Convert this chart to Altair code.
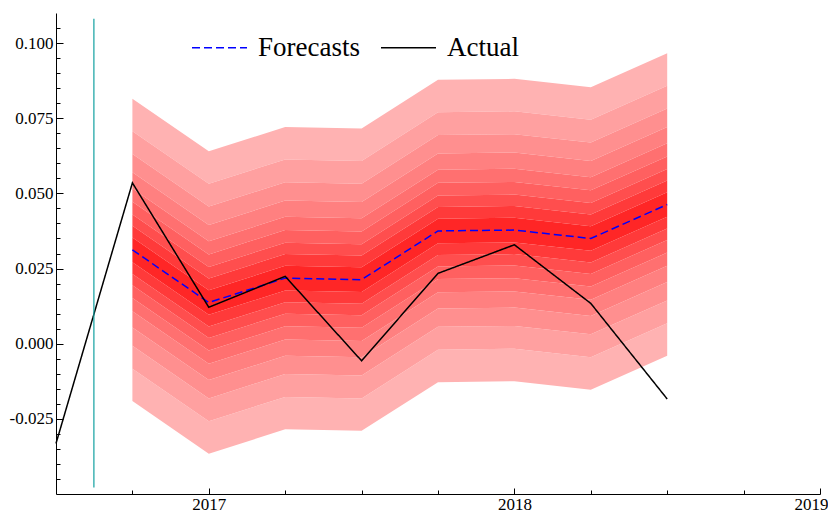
import altair as alt
import pandas as pd

# ---- data ----
fc_time = [2016.75, 2017.0, 2017.25, 2017.5, 2017.75, 2018.0, 2018.25, 2018.5]
forecast = [0.0312, 0.0137, 0.0218, 0.0213, 0.0375, 0.0378, 0.0350, 0.0463]

act_time = [2016.5, 2016.75, 2017.0, 2017.25, 2017.5, 2017.75, 2018.0, 2018.25, 2018.5]
actual = [-0.0332, 0.0535, 0.0121, 0.0224, -0.0057, 0.0234, 0.0329, 0.0134, -0.0184]

# half-widths of the fan boundaries around the forecast, outer -> inner
band_offsets = [0.0503, 0.0395, 0.0319, 0.0258, 0.0204, 0.0160, 0.0118, 0.0080, 0.0041]
band_colors = ["#ffb2b2", "#ffa0a0", "#ff8f8f", "#ff8080", "#ff7070",
               "#ff6060", "#ff4e4e", "#ff3a3a", "#ff2626"]
band_levels = ["L1", "L2", "L3", "L4", "L5", "L6", "L7", "L8", "L9"]

origin_time = [2016.624]
origin_low = [-0.0478]
origin_high = [0.1081]

y_major = [-0.025, 0.0, 0.025, 0.05, 0.075, 0.1]
y_minor = [-0.045, -0.04, -0.035, -0.03, -0.02, -0.015, -0.01, -0.005,
           0.005, 0.01, 0.015, 0.02, 0.03, 0.035, 0.04, 0.045,
           0.055, 0.06, 0.065, 0.07, 0.08, 0.085, 0.09, 0.095, 0.105]
x_major = [2017, 2018, 2019]
x_minor = [2016.75, 2017.25, 2017.5, 2017.75, 2018.25, 2018.5, 2018.75]

series_names = ["Forecasts", "Actual"]

# ---- tables ----
band_rows = []
n = len(band_offsets)
for i in range(n):
    for t, m in zip(fc_time, forecast):
        if i < n - 1:
            band_rows.append({"t": t, "lo": m + band_offsets[i + 1], "hi": m + band_offsets[i],
                              "level": band_levels[i], "band": f"u{i}"})
            band_rows.append({"t": t, "lo": m - band_offsets[i], "hi": m - band_offsets[i + 1],
                              "level": band_levels[i], "band": f"d{i}"})
        else:
            band_rows.append({"t": t, "lo": m - band_offsets[i], "hi": m + band_offsets[i],
                              "level": band_levels[i], "band": "c"})
bands_df = pd.DataFrame(band_rows)

line_rows = [{"t": t, "v": v, "series": "Forecasts"} for t, v in zip(fc_time, forecast)]
line_rows += [{"t": t, "v": v, "series": "Actual"} for t, v in zip(act_time, actual)]
lines_df = pd.DataFrame(line_rows)

origin_df = pd.DataFrame({"t": origin_time, "y1": origin_low, "y2": origin_high})

FONT = "Liberation Serif"
xscale = alt.Scale(domain=[2016.5, 2019], nice=False, zero=False)
yscale = alt.Scale(domain=[-0.05, 0.11], nice=False, zero=False)

# main axes: domain + labels
x_main = alt.Axis(values=x_major, format="d", ticks=False, grid=False, title=None,
                  labelFont=FONT, labelFontSize=17, labelColor="black", labelPadding=2,
                  labelFlush=False, labelOverlap=False, domainColor="black", domainWidth=1,
                  labelOffset={"condition": {"test": "datum.value == 2019", "value": -9}, "value": 0},
                  orient="bottom")
y_main = alt.Axis(values=y_major, ticks=False, grid=False, title=None,
                  labelExpr="replace(format(datum.value, '.3f'), '\u2212', '-')",
                  labelFont=FONT, labelFontSize=17, labelColor="black", labelPadding=3,
                  labelOverlap=False, domainColor="black", domainWidth=1, orient="left")
# inward major ticks
x_maj_ticks = alt.Axis(values=x_major, labels=False, domain=False, grid=False, title=None,
                       tickSize=6, offset=-6, tickColor="black", tickWidth=1, orient="bottom")
y_maj_ticks = alt.Axis(values=y_major, labels=False, domain=False, grid=False, title=None,
                       tickSize=7, offset=-7, tickColor="black", tickWidth=1, orient="left")
# inward minor ticks
x_min_ticks = alt.Axis(values=x_minor, labels=False, domain=False, grid=False, title=None,
                       tickSize=4, offset=-4, tickColor="black", tickWidth=1, orient="bottom")
y_min_ticks = alt.Axis(values=y_minor, labels=False, domain=False, grid=False, title=None,
                       tickSize=4, offset=-4, tickColor="black", tickWidth=1, orient="left")

bands = alt.Chart(bands_df).mark_area(opacity=1).encode(
    x=alt.X("t:Q", scale=xscale, axis=x_main),
    y=alt.Y("lo:Q", scale=yscale, axis=y_main),
    y2="hi:Q",
    fill=alt.Fill("level:N", scale=alt.Scale(domain=band_levels, range=band_colors), legend=None),
    detail="band:N",
)

legend = alt.Legend(orient="none", legendX=135, legendY=6, direction="horizontal", title=None,
                    labelFont=FONT, labelFontSize=27, labelColor="black", symbolType="stroke",
                    symbolSize=3025, symbolStrokeWidth=1.5, labelOffset=10, columnPadding=18,
                    padding=0, labelLimit=0)

lines = alt.Chart(lines_df).mark_line(strokeWidth=1.5).encode(
    x=alt.X("t:Q", scale=xscale, axis=x_maj_ticks),
    y=alt.Y("v:Q", scale=yscale, axis=y_maj_ticks),
    color=alt.Color("series:N", scale=alt.Scale(domain=series_names, range=["#0000ff", "#000000"]),
                    legend=legend),
    strokeDash=alt.StrokeDash("series:N", scale=alt.Scale(domain=series_names, range=[[8, 4], [1, 0]]),
                              legend=legend),
)

origin = alt.Chart(origin_df).mark_rule(color="#12a0a0", strokeWidth=1.2).encode(
    x=alt.X("t:Q", scale=xscale, axis=x_min_ticks),
    y=alt.Y("y1:Q", scale=yscale, axis=y_min_ticks),
    y2="y2:Q",
)

chart = alt.layer(bands, lines, origin).resolve_scale(
    x="shared", y="shared"
).resolve_axis(
    x="independent", y="independent"
).properties(
    width=764, height=481,
    padding={"left": 48, "top": 5, "right": 8, "bottom": 20},
    autosize=alt.AutoSizeParams(type="none"),
    background="white",
).configure_view(stroke=None)

chart.save("out.html", embed_options={"renderer": "svg", "actions": False})
